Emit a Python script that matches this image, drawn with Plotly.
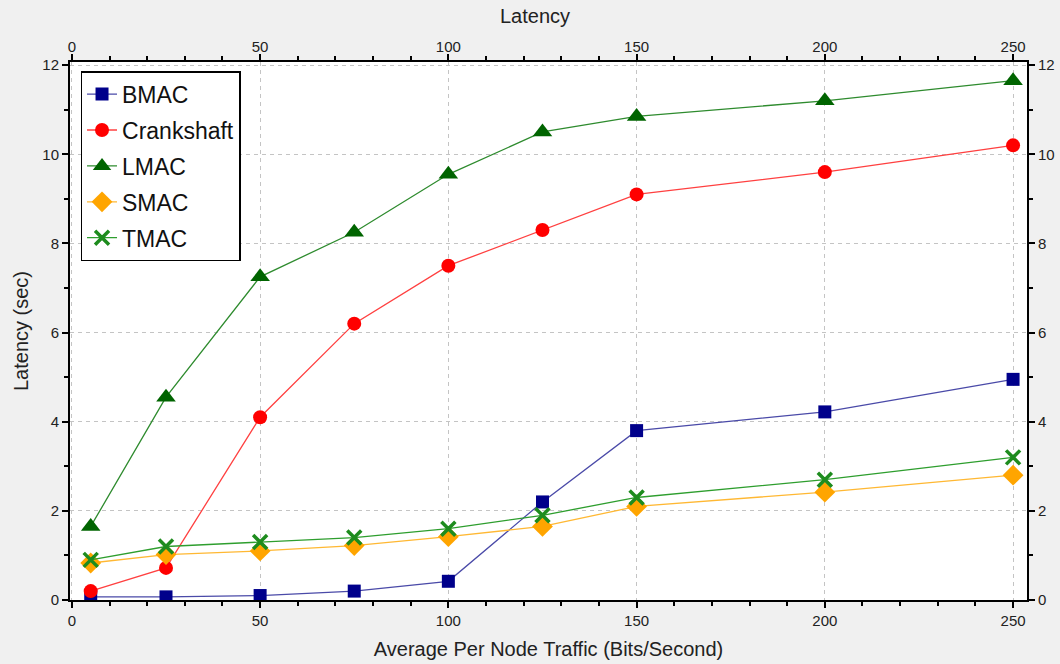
import plotly.graph_objects as go

traffic = [5, 25, 50, 75, 100, 125, 150, 200, 250]
bmac = [0.07, 0.07, 0.1, 0.2, 0.42, 2.2, 3.8, 4.22, 4.95]
crankshaft = [0.2, 0.72, 4.1, 6.2, 7.5, 8.3, 9.1, 9.6, 10.2]
lmac = [1.65, 4.55, 7.25, 8.25, 9.55, 10.5, 10.85, 11.2, 11.65]
smac = [0.83, 1.02, 1.1, 1.22, 1.42, 1.65, 2.1, 2.42, 2.8]
tmac = [0.9, 1.2, 1.3, 1.4, 1.6, 1.9, 2.3, 2.7, 3.2]

x_ticks = [0, 50, 100, 150, 200, 250]
y_ticks = [0, 2, 4, 6, 8, 10, 12]

series = [
    ("BMAC", bmac, "#00008b", "#4a4aa8", "square", 13, None),
    ("Crankshaft", crankshaft, "#ff0000", "#ff4040", "circle", 14, None),
    ("LMAC", lmac, "#006400", "#2e8b2e", "triangle-up", 17, None),
    ("SMAC", smac, "#ffa500", "#ffb833", "diamond", 16, None),
    ("TMAC", tmac, "#1e8c1e", "#2e9e2e", "x-thin", 14, 3.5),
]

FONT = "Liberation Sans, Arial, sans-serif"

fig = go.Figure()
for name, vals, mcol, lcol, sym, size, mlw in series:
    marker = dict(symbol=sym, size=size, color=mcol)
    if mlw:
        marker["line"] = dict(color=mcol, width=mlw)
    else:
        marker["line"] = dict(width=0)
    fig.add_trace(go.Scatter(x=traffic, y=vals, name=name, mode="lines+markers",
                             legendgroup=name,
                             line=dict(color=lcol, width=1.3), marker=marker))

# invisible trace for secondary (top/right) axes
fig.add_trace(go.Scatter(x=traffic, y=lmac, xaxis="x2", yaxis="y2", mode="markers",
                         marker=dict(opacity=0), showlegend=False, hoverinfo="skip"))

tickfont = dict(family=FONT, size=15, color="#222")
titlefont = dict(family=FONT, size=20, color="#222")
common_x = dict(range=[-0.5, 253.7], tickvals=x_ticks, ticks="outside", ticklen=6,
                tickwidth=1.5, tickcolor="black", showline=True, linecolor="black",
                linewidth=2, tickfont=tickfont, zeroline=False, automargin=False,
                minor=dict(dtick=10, tick0=0, ticks="outside", ticklen=4, tickcolor="black", showgrid=False))
common_y = dict(range=[0, 12.07], tickvals=y_ticks, ticks="outside", ticklen=6,
                tickwidth=1.5, tickcolor="black", showline=True, linecolor="black",
                linewidth=2, tickfont=tickfont, zeroline=False, automargin=False,
                minor=dict(dtick=1, tick0=0, ticks="outside", ticklen=4, tickcolor="black", showgrid=False))

GRID = dict(showgrid=True, gridcolor="#c4c4c4", griddash="4px,4px", gridwidth=1)

fig.update_layout(
    width=1060, height=664,
    margin=dict(l=70, r=33, t=62, b=64),
    paper_bgcolor="#f0f0f0", plot_bgcolor="white",
    font=dict(family=FONT, color="#222"),
    xaxis=dict(**common_x, **GRID,
               title=dict(text="Average Per Node Traffic (Bits/Second)", font=titlefont, standoff=14)),
    yaxis=dict(**common_y, **GRID,
               title=dict(text="Latency (sec)", font=titlefont, standoff=8)),
    xaxis2=dict(**common_x, overlaying="x", side="top", showgrid=False, ticklabelstandoff=-4),
    yaxis2=dict(**common_y, overlaying="y", side="right", showgrid=False),
    legend=dict(x=0.011, y=0.983, xanchor="left", yanchor="top", bgcolor="white",
                bordercolor="black", borderwidth=1.5, traceorder="grouped",
                font=dict(family=FONT, size=23, color="#111"),
                itemwidth=30, tracegroupgap=3),
    showlegend=True,
    annotations=[dict(text="Latency", xref="paper", yref="paper", x=0.486, y=1.0855,
                      xanchor="center", yanchor="middle", showarrow=False, font=titlefont)],
)

fig.write_html("out.html", config={"displayModeBar": False},
               post_script="document.body.style.margin='0';document.body.style.overflow='hidden';")
